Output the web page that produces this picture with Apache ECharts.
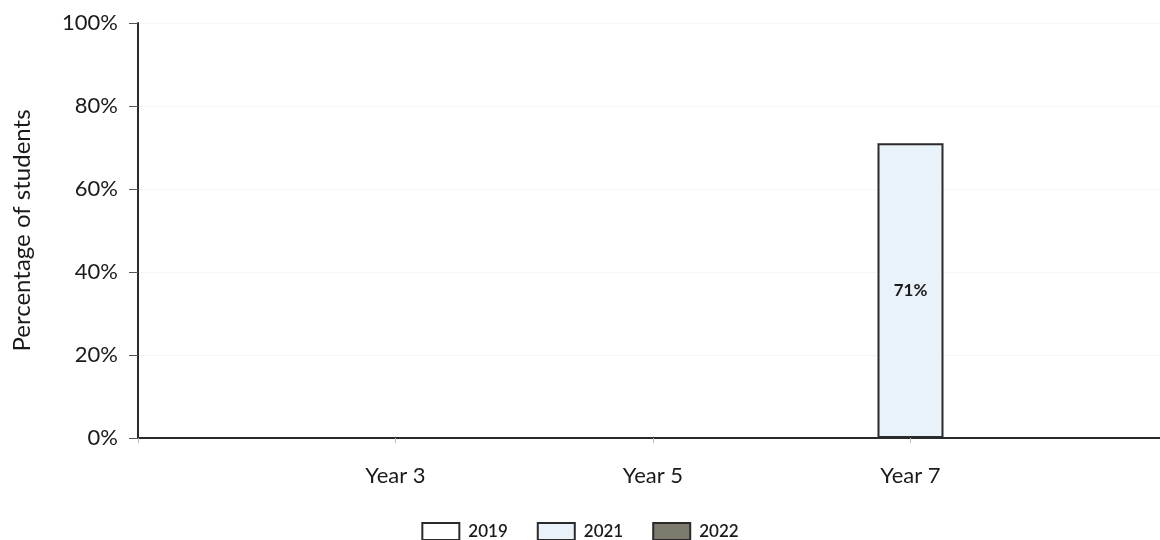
<!DOCTYPE html>
<html><head><meta charset="utf-8">
<script src="https://cdn.jsdelivr.net/npm/echarts@6/dist/echarts.min.js"></script>
<style>html,body{margin:0;padding:0;background:#fff}#c{width:1160px;height:540px}</style>
</head><body><div id="c"></div>
<script>
const categories = ['', 'Year 3', 'Year 5', 'Year 7', ''];
const years = ['2019', '2021', '2022'];
const values2019 = [null, null, null, null, null];
const values2021 = [null, null, null, 71, null];
const values2022 = [null, null, null, null, null];
const yTicks = [0, 20, 40, 60, 80, 100];

const font = 'Lato, "Liberation Sans", sans-serif';
const fills = ['#ffffff', '#e9f1f9', '#7d7b6d'];
const seriesData = [values2019, values2021, values2022];

const chart = echarts.init(document.getElementById('c'), null, {renderer: 'canvas'});
chart.setOption({
  animation: false,
  textStyle: {fontFamily: font},
  grid: {left: 138, width: 1030, top: 23, bottom: 102, outerBoundsMode: 'none', containLabel: false},
  legend: {
    data: years, top: 517, left: 'center', icon: 'rect', itemWidth: 37, itemHeight: 17, itemGap: 29,
    textStyle: {fontFamily: font, fontSize: 17, fontWeight: 600, color: '#1a1a1a', padding: [0, 0, 0, 4]}
  },
  xAxis: {
    type: 'category', data: categories, boundaryGap: false,
    axisLine: {lineStyle: {color: '#2a2a2a', width: 2}},
    axisTick: {show: true, length: 5, lineStyle: {color: '#bbb'}},
    axisLabel: {fontFamily: font, fontSize: 22, color: '#1a1a1a', margin: 27}
  },
  yAxis: {
    type: 'value', min: 0, max: 100, interval: 20,
    name: 'Percentage of students', nameLocation: 'middle', nameGap: 104, nameRotate: 90,
    nameTextStyle: {fontFamily: font, fontSize: 24, color: '#1a1a1a'},
    axisLine: {show: true, lineStyle: {color: '#2a2a2a', width: 2}},
    axisTick: {show: true, length: 9, lineStyle: {color: '#555'}},
    splitLine: {show: true, lineStyle: {color: '#f6f6f6'}},
    axisLabel: {fontFamily: font, fontSize: 22, color: '#1a1a1a', margin: 20,
      formatter: v => yTicks.includes(v) ? v + '%' : ''}
  },
  series: years.map((y, i) => ({
    name: y, type: 'bar', data: seriesData[i], barWidth: 66, barGap: '0%',
    itemStyle: {color: fills[i], borderColor: '#2a2a2a', borderWidth: 2},
    label: {show: true, position: 'inside', fontFamily: font, fontSize: 17, fontWeight: 'bold', color: '#1a1a1a',
      formatter: p => p.value == null ? '' : p.value + '%'}
  }))
});
</script></body></html>
